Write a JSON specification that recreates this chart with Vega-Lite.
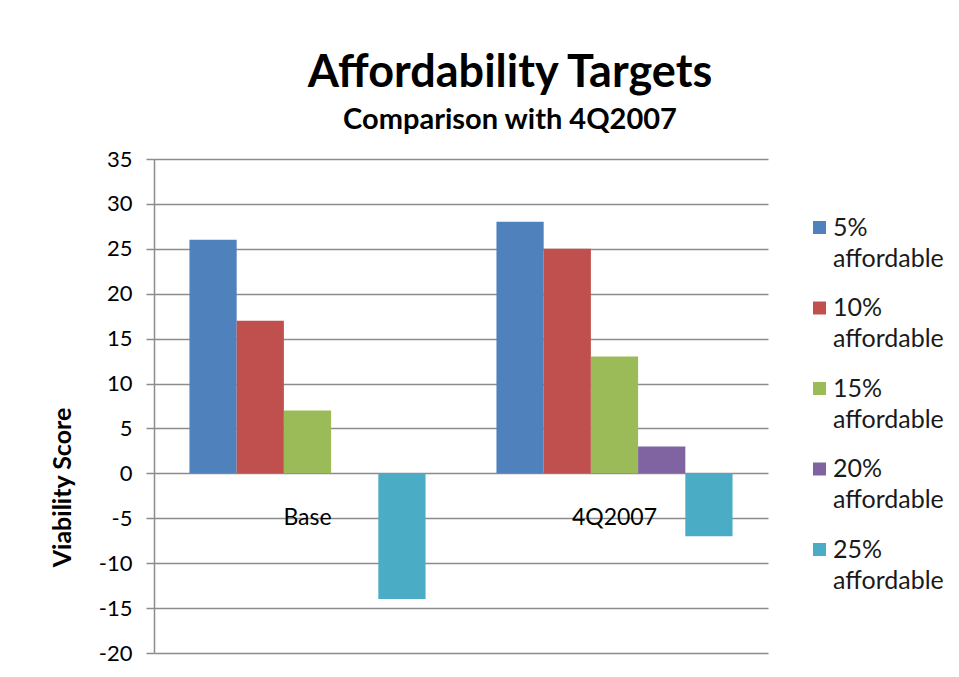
{
  "$schema": "https://vega.github.io/schema/vega-lite/v6.json",
  "width": 614,
  "height": 494,
  "autosize": {"type": "none"},
  "padding": {"left": 154, "top": 159, "right": 191, "bottom": 24},
  "background": "white",
  "title": {
    "text": "Affordability Targets",
    "subtitle": "Comparison with 4Q2007",
    "anchor": "middle",
    "frame": "group",
    "dx": 49,
    "offset": 13,
    "font": "Lato",
    "fontSize": 45,
    "fontWeight": "bold",
    "color": "#000000",
    "subtitleFont": "Lato",
    "subtitleFontSize": 29,
    "subtitleFontWeight": "bold",
    "subtitleColor": "#000000",
    "subtitlePadding": 10
  },
  "data": {
    "values": [
      {"period": "Base", "series": "5% affordable", "value": 26},
      {"period": "Base", "series": "10% affordable", "value": 17},
      {"period": "Base", "series": "15% affordable", "value": 7},
      {"period": "Base", "series": "20% affordable", "value": 0},
      {"period": "Base", "series": "25% affordable", "value": -14},
      {"period": "4Q2007", "series": "5% affordable", "value": 28},
      {"period": "4Q2007", "series": "10% affordable", "value": 25},
      {"period": "4Q2007", "series": "15% affordable", "value": 13},
      {"period": "4Q2007", "series": "20% affordable", "value": 3},
      {"period": "4Q2007", "series": "25% affordable", "value": -7}
    ]
  },
  "mark": {"type": "bar"},
  "encoding": {
    "x": {
      "field": "period",
      "type": "nominal",
      "sort": ["Base", "4Q2007"],
      "scale": {"paddingInner": 0.231, "paddingOuter": 0.1155},
      "axis": {
        "title": null,
        "labelAngle": 0,
        "offset": -136,
        "domain": false,
        "ticks": false,
        "labelPadding": 0,
        "labelBaseline": "middle",
        "labelFont": "Lato",
        "labelFontSize": 23,
        "labelColor": "#000000"
      }
    },
    "xOffset": {
      "field": "series",
      "type": "nominal",
      "sort": ["5% affordable", "10% affordable", "15% affordable", "20% affordable", "25% affordable"],
      "scale": {"paddingInner": 0, "paddingOuter": 0}
    },
    "y": {
      "field": "value",
      "type": "quantitative",
      "scale": {"domain": [-20, 35], "nice": false, "zero": false},
      "axis": {
        "values": [-20, -15, -10, -5, 0, 5, 10, 15, 20, 25, 30, 35],
        "labelExpr": "replace(datum.label, '\u2212', '-')",
        "title": "Viability Score",
        "titleFont": "Lato",
        "titleFontSize": 25,
        "titleFontWeight": "bold",
        "titleColor": "#000000",
        "titleX": -92,
        "titleY": 328,
        "titleAngle": -90,
        "titleAlign": "center",
        "titleBaseline": "middle",
        "labelFont": "Lato",
        "labelFontSize": 22,
        "labelColor": "#000000",
        "labelPadding": 14,
        "tickSize": 8,
        "tickColor": "#8c8c8c",
        "tickWidth": 1.5,
        "domainColor": "#8c8c8c",
        "domainWidth": 1.5,
        "gridColor": "#8c8c8c",
        "gridWidth": 1.5,
        "gridOpacity": 1
      }
    },
    "color": {
      "field": "series",
      "type": "nominal",
      "sort": ["5% affordable", "10% affordable", "15% affordable", "20% affordable", "25% affordable"],
      "scale": {
        "domain": ["5% affordable", "10% affordable", "15% affordable", "20% affordable", "25% affordable"],
        "range": ["#4F81BD", "#C0504D", "#9BBB59", "#8064A2", "#4BACC6"]
      },
      "legend": {
        "title": null,
        "orient": "none",
        "legendX": 653,
        "legendY": 56,
        "symbolType": "square",
        "symbolSize": 169,
        "symbolStrokeWidth": 0,
        "symbolOpacity": 1,
        "labelOffset": 1,
        "labelFont": "Lato",
        "labelFontSize": 25,
        "labelColor": "#1a1a1a",
        "labelBaseline": "middle",
        "labelExpr": "split(datum.label, ' ')",
        "rowPadding": 23.5,
        "encode": {
          "labels": {"update": {"lineHeight": {"value": 31}}}
        }
      }
    }
  },
  "config": {
    "view": {"stroke": null}
  }
}
